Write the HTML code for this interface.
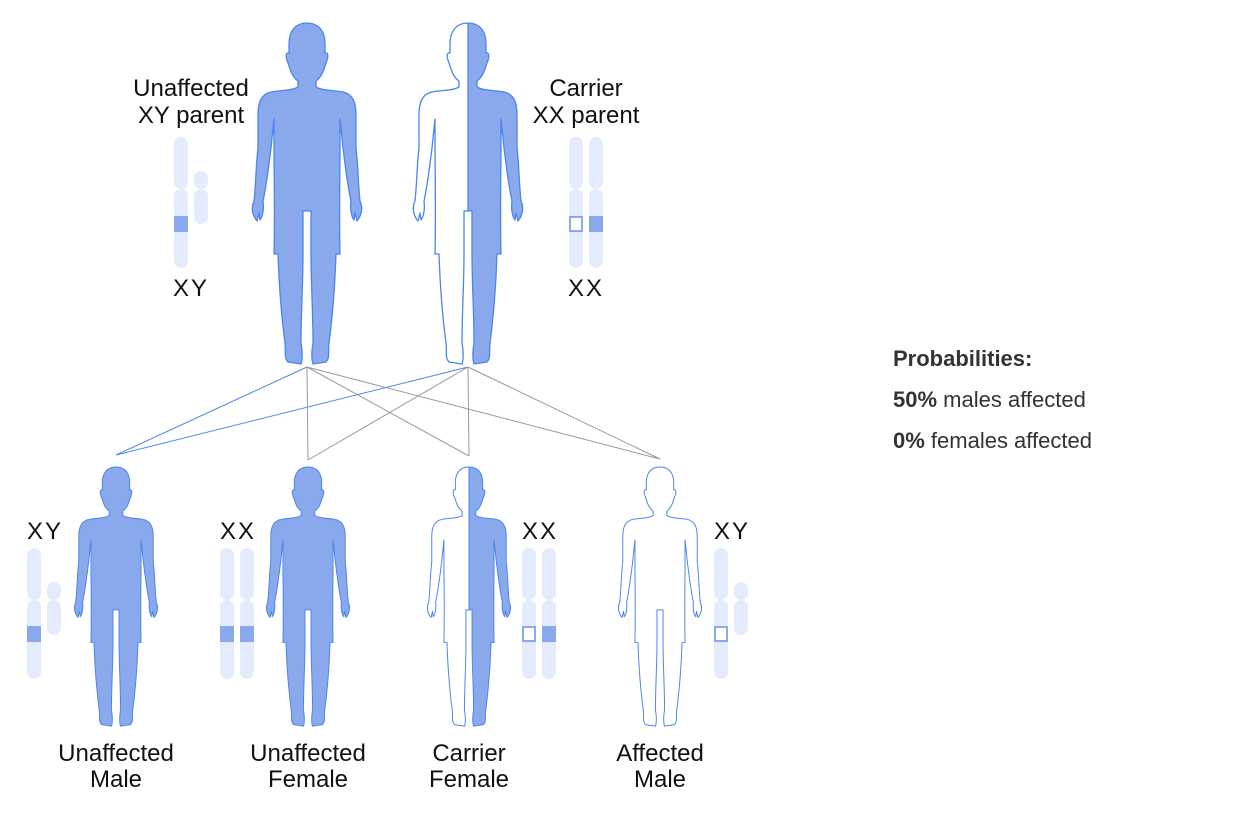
<!DOCTYPE html>
<html><head><meta charset="utf-8"><style>
body{margin:0;background:#fff;}
svg{display:block;}
text{font-family:"Liberation Sans",sans-serif;fill:#111;}
</style></head><body>
<svg width="1250" height="821" viewBox="0 0 1250 821" xmlns="http://www.w3.org/2000/svg">
<defs>
<path id="h" d="M0,0 C11,0 18,7 18,21 L18,30 C21,29 22,33 19,40 L17,46 C15,52 12,56 9,58 L9,64 C16,68 26,67 36,69 C45,71 49,78 49,92 L49,125 C51,140 51,160 53,178 C56,184 55,192 50,198 L48,190 L47,197 C44,193 43,185 44,178 C40,160 38,140 36,125 L33,96 L33,120 C33,150 32,190 33,231 L29,231 C28,260 26,290 22,320 C21,330 23,335 19,339 L6,341 C4,335 5,325 6,320 C6,290 4,260 4,231 L4,188 L0,188 Z" stroke="none"/>
<path id="o" d="M0,188 L4,188 L4,231 C4,260 6,290 6,320 C5,325 4,335 6,341 L19,339 C23,335 21,330 22,320 C26,290 28,260 29,231 L33,231 C32,190 33,150 33,120 L33,96 L36,125 C38,140 40,160 44,178 C43,185 44,193 47,197 L48,190 L50,198 C55,192 56,184 53,178 C51,160 51,140 49,125 L49,92 C49,78 45,71 36,69 C26,67 16,68 9,64 L9,58 C12,56 15,52 17,46 L19,40 C22,33 21,29 18,30 L18,21 C18,7 11,0 0,0" fill="none" stroke="#4a86f0" stroke-width="1.3" stroke-linejoin="round"/>
<g id="out"><use href="#o"/><use href="#o" transform="scale(-1,1)"/></g>
</defs>
<!-- lines -->
<g stroke-width="1" fill="none">
<line x1="307" y1="367" x2="116" y2="455" stroke="#4a86f0"/>
<line x1="468" y1="367" x2="116" y2="455" stroke="#4a86f0"/>
<line x1="307" y1="367" x2="308" y2="460" stroke="#999"/>
<line x1="307" y1="367" x2="469" y2="456" stroke="#999"/>
<line x1="307" y1="367" x2="660" y2="459" stroke="#999"/>
<line x1="468" y1="367" x2="308" y2="460" stroke="#999"/>
<line x1="468" y1="367" x2="469" y2="456" stroke="#999"/>
<line x1="468" y1="367" x2="660" y2="459" stroke="#999"/>
</g>
<!-- parents -->
<g transform="translate(307,23)"><use href="#h" fill="#8aa8ec"/><use href="#h" fill="#8aa8ec" transform="scale(-1,1)"/><use href="#out"/></g>
<g transform="translate(468,23)"><use href="#h" fill="#8aa8ec"/><use href="#h" fill="#fff" transform="scale(-1,1)"/><use href="#out"/><line x1="0" y1="0" x2="0" y2="188" stroke="#4a86f0" stroke-width="1.3"/></g>
<!-- children -->
<g transform="translate(116,467) scale(0.76)"><use href="#h" fill="#8aa8ec"/><use href="#h" fill="#8aa8ec" transform="scale(-1,1)"/><use href="#out"/></g>
<g transform="translate(308,467) scale(0.76)"><use href="#h" fill="#8aa8ec"/><use href="#h" fill="#8aa8ec" transform="scale(-1,1)"/><use href="#out"/></g>
<g transform="translate(469,467) scale(0.76)"><use href="#h" fill="#8aa8ec"/><use href="#h" fill="#fff" transform="scale(-1,1)"/><use href="#out"/><line x1="0" y1="0" x2="0" y2="188" stroke="#4a86f0" stroke-width="1.3"/></g>
<g transform="translate(660,467) scale(0.76)"><use href="#h" fill="#fff"/><use href="#h" fill="#fff" transform="scale(-1,1)"/><use href="#out"/></g>
<!-- chromosomes -->
<g fill="#e4ebfc">
<rect x="174" y="137" width="14" height="52" rx="7"/><rect x="174" y="189" width="14" height="79" rx="7"/>
<rect x="194" y="171" width="14" height="18" rx="7"/><rect x="194" y="189" width="14" height="35" rx="7"/>
<rect x="569" y="137" width="14" height="52" rx="7"/><rect x="569" y="189" width="14" height="79" rx="7"/>
<rect x="589" y="137" width="14" height="52" rx="7"/><rect x="589" y="189" width="14" height="79" rx="7"/>
<rect x="27" y="548" width="14" height="52" rx="7"/><rect x="27" y="600" width="14" height="79" rx="7"/>
<rect x="47" y="582" width="14" height="18" rx="7"/><rect x="47" y="600" width="14" height="35" rx="7"/>
<rect x="220" y="548" width="14" height="52" rx="7"/><rect x="220" y="600" width="14" height="79" rx="7"/>
<rect x="240" y="548" width="14" height="52" rx="7"/><rect x="240" y="600" width="14" height="79" rx="7"/>
<rect x="522" y="548" width="14" height="52" rx="7"/><rect x="522" y="600" width="14" height="79" rx="7"/>
<rect x="542" y="548" width="14" height="52" rx="7"/><rect x="542" y="600" width="14" height="79" rx="7"/>
<rect x="714" y="548" width="14" height="52" rx="7"/><rect x="714" y="600" width="14" height="79" rx="7"/>
<rect x="734" y="582" width="14" height="18" rx="7"/><rect x="734" y="600" width="14" height="35" rx="7"/>
</g>
<g fill="#8aa8ec">
<rect x="174" y="216" width="14" height="16"/>
<rect x="589" y="216" width="14" height="16"/>
<rect x="27" y="626" width="14" height="16"/>
<rect x="220" y="626" width="14" height="16"/><rect x="240" y="626" width="14" height="16"/>
<rect x="542" y="626" width="14" height="16"/>
</g>
<g fill="#fff" stroke="#8aa8ec" stroke-width="2">
<rect x="570" y="217" width="12" height="14"/>
<rect x="523" y="627" width="12" height="14"/>
<rect x="715" y="627" width="12" height="14"/>
</g>
<!-- labels -->
<g font-size="24" text-anchor="middle">
<text x="191" y="96">Unaffected</text><text x="191" y="123">XY parent</text>
<text x="586" y="96">Carrier</text><text x="586" y="123">XX parent</text>
<text x="191" y="296" letter-spacing="2">XY</text>
<text x="586" y="296" letter-spacing="2">XX</text>
<text x="45" y="539" letter-spacing="2">XY</text>
<text x="238" y="539" letter-spacing="2">XX</text>
<text x="540" y="539" letter-spacing="2">XX</text>
<text x="732" y="539" letter-spacing="2">XY</text>
<text x="116" y="761">Unaffected</text><text x="116" y="787">Male</text>
<text x="308" y="761">Unaffected</text><text x="308" y="787">Female</text>
<text x="469" y="761">Carrier</text><text x="469" y="787">Female</text>
<text x="660" y="761">Affected</text><text x="660" y="787">Male</text>
</g>
<g font-size="22">
<text x="893" y="366" font-weight="bold" style="fill:#333">Probabilities:</text>
<text x="893" y="407" style="fill:#333"><tspan font-weight="bold">50%</tspan> males affected</text>
<text x="893" y="448" style="fill:#333"><tspan font-weight="bold">0%</tspan> females affected</text>
</g>
</svg>
</body></html>
